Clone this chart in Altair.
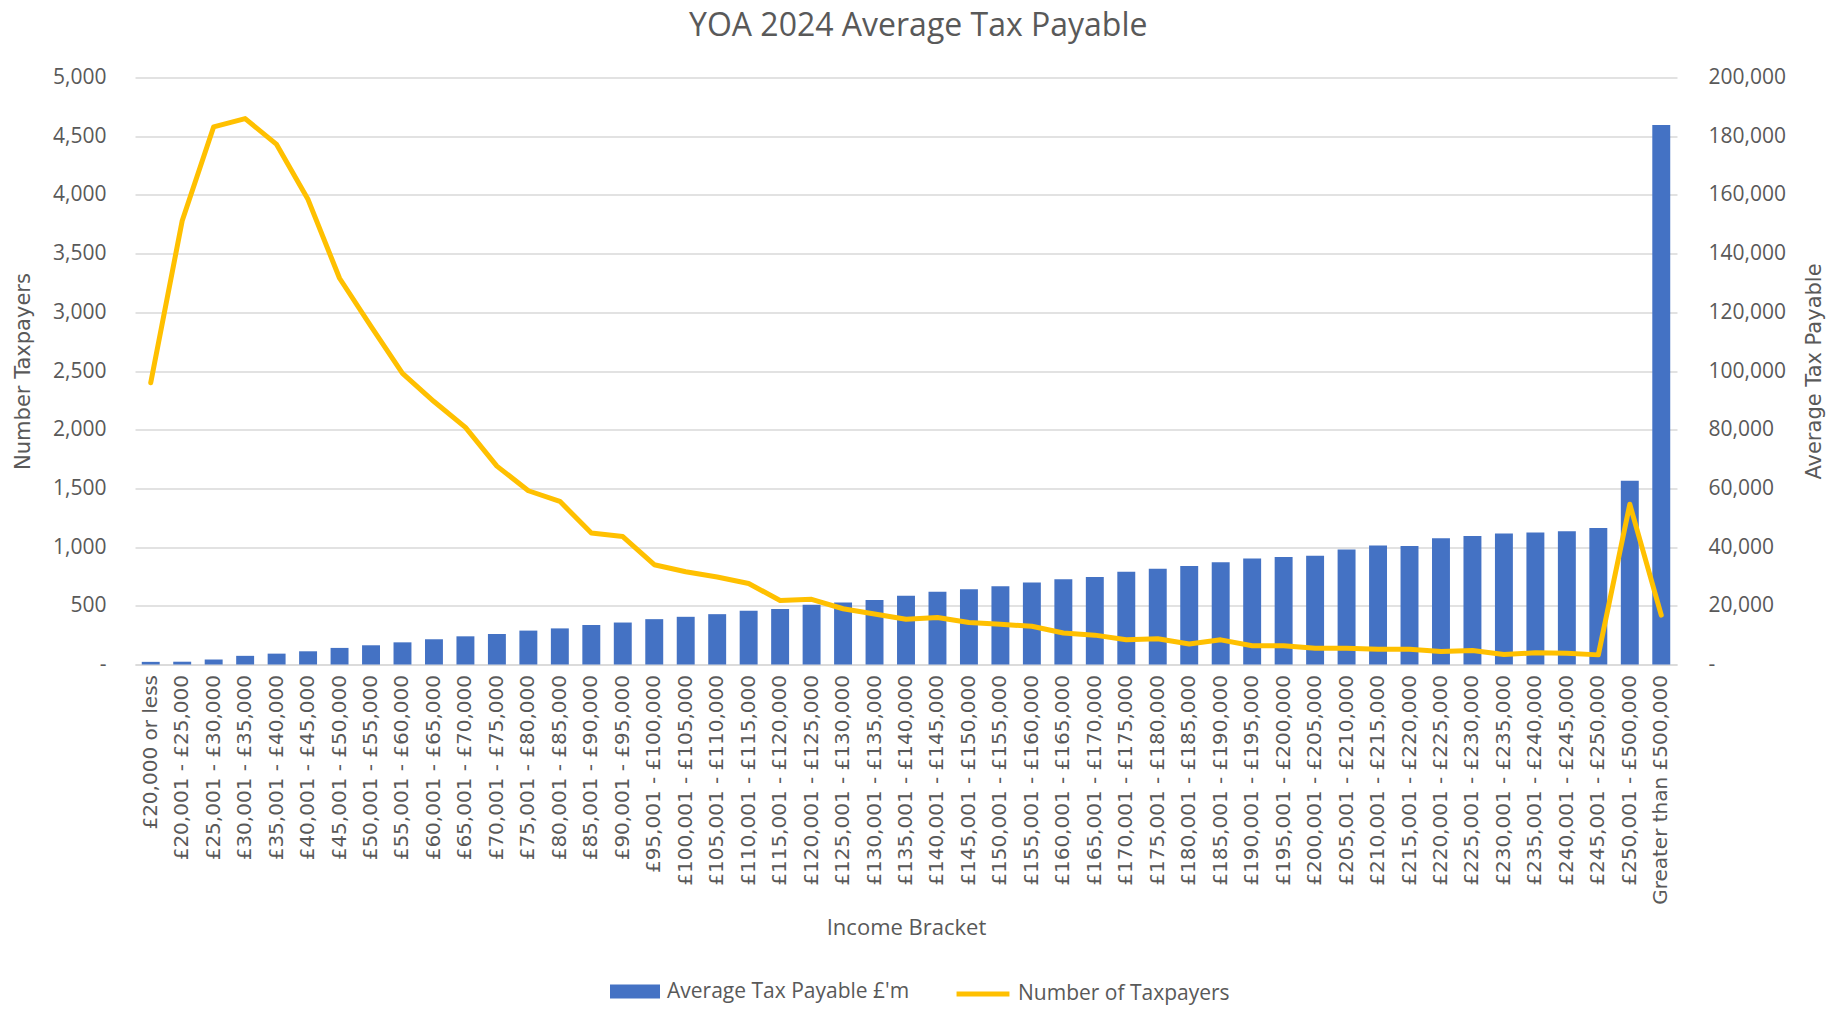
import altair as alt
import pandas as pd

brackets = [
    "£20,000 or less", "£20,001 - £25,000", "£25,001 - £30,000", "£30,001 - £35,000",
    "£35,001 - £40,000", "£40,001 - £45,000", "£45,001 - £50,000", "£50,001 - £55,000",
    "£55,001 - £60,000", "£60,001 - £65,000", "£65,001 - £70,000", "£70,001 - £75,000",
    "£75,001 - £80,000", "£80,001 - £85,000", "£85,001 - £90,000", "£90,001 - £95,000",
    "£95,001 - £100,000", "£100,001 - £105,000", "£105,001 - £110,000", "£110,001 - £115,000",
    "£115,001 - £120,000", "£120,001 - £125,000", "£125,001 - £130,000", "£130,001 - £135,000",
    "£135,001 - £140,000", "£140,001 - £145,000", "£145,001 - £150,000", "£150,001 - £155,000",
    "£155,001 - £160,000", "£160,001 - £165,000", "£165,001 - £170,000", "£170,001 - £175,000",
    "£175,001 - £180,000", "£180,001 - £185,000", "£185,001 - £190,000", "£190,001 - £195,000",
    "£195,001 - £200,000", "£200,001 - £205,000", "£205,001 - £210,000", "£210,001 - £215,000",
    "£215,001 - £220,000", "£220,001 - £225,000", "£225,001 - £230,000", "£230,001 - £235,000",
    "£235,001 - £240,000", "£240,001 - £245,000", "£245,001 - £250,000", "£250,001 - £500,000",
    "Greater than £500,000",
]

avg_tax = [
    900, 950, 1700, 2950, 3700, 4500, 5650, 6550, 7550, 8600,
    9600, 10400, 11550, 12300, 13450, 14300, 15450, 16250, 17150, 18300,
    18950, 20350, 21150, 21950, 23400, 24800, 25600, 26650, 27900, 29050,
    29800, 31600, 32650, 33550, 34800, 36150, 36600, 37050, 39200, 40550,
    40400, 43000, 43750, 44650, 44950, 45400, 46500, 62600, 183800,
]

num_taxpayers = [
    2400, 3780, 4580, 4650, 4430, 3960, 3290, 2880, 2480, 2240,
    2020, 1690, 1480, 1390, 1120, 1090, 850, 790, 745, 690,
    545, 555, 475, 430, 385, 400, 358, 342, 326, 268,
    250, 210, 220, 175, 210, 160, 160, 138, 138, 130,
    130, 110, 120, 85, 100, 95, 82, 1365, 420,
]

bar_name = ["Average Tax Payable £'m"]
line_name = ["Number of Taxpayers"]

df = pd.DataFrame({
    "bracket": brackets,
    "avg_tax": avg_tax,
    "taxpayers": num_taxpayers,
    "bar_series": bar_name * len(brackets),
    "line_series": line_name * len(brackets),
})

FONT = "Open Sans"
GREY = "#595959"
GRID = "#D9D9D9"
ZERO_DASH = "datum.value == 0 ? '-' : format(datum.value, ',')"

x_enc = alt.X(
    "bracket:N", sort=brackets, title="Income Bracket",
    scale=alt.Scale(paddingInner=0.43, paddingOuter=0.215),
    axis=alt.Axis(
        labelAngle=270, labelFont="DejaVu Sans", labelFontSize=20, labelColor=GREY,
        labelPadding=10, ticks=False, tickSize=0, domainColor=GRID, domainWidth=1.5,
        labelLimit=400, labelOverlap=False,
        titleFont=FONT, titleFontSize=22, titleColor=GREY, titleFontWeight="normal",
        titleY=263, titleBaseline="middle",
    ),
)

bars = alt.Chart(df).mark_bar().encode(
    x=x_enc,
    y=alt.Y(
        "avg_tax:Q",
        scale=alt.Scale(domain=[0, 200000], nice=False),
        axis=alt.Axis(
            orient="right", values=list(range(0, 200001, 20000)), labelExpr=ZERO_DASH,
            grid=False, domain=False, ticks=False, tickSize=0, labelPadding=31,
            labelFont=FONT, labelFontSize=21, labelColor=GREY,
            title="Average Tax Payable", titleFont="DejaVu Sans", titleFontSize=21,
            titleColor=GREY, titleFontWeight="normal", titleAngle=270,
            titleX=137, titleY=293.5, titleBaseline="middle", titleAlign="center",
        ),
    ),
    color=alt.Color(
        "bar_series:N",
        scale=alt.Scale(domain=bar_name, range=["#4472C4"]),
        legend=alt.Legend(
            title=None, orient="none", legendX=475, legendY=889,
            symbolType="M-1,-0.28H1V0.28H-1Z", symbolSize=2500, symbolStrokeWidth=0,
            labelFont=FONT, labelFontSize=21, labelColor=GREY, labelOffset=7,
            labelLimit=500, padding=0,
        ),
    ),
)

line = alt.Chart(df).mark_line(strokeWidth=5, strokeJoin="round", strokeCap="round").encode(
    x=x_enc,
    y=alt.Y(
        "taxpayers:Q",
        scale=alt.Scale(domain=[0, 5000], nice=False),
        axis=alt.Axis(
            orient="left", values=list(range(0, 5001, 500)), labelExpr=ZERO_DASH,
            grid=True, gridColor=GRID, gridWidth=1.4, domain=False, ticks=False, tickSize=0,
            labelPadding=29, labelFont=FONT, labelFontSize=21, labelColor=GREY,
            title="Number Taxpayers", titleFont="DejaVu Sans", titleFontSize=21,
            titleColor=GREY, titleFontWeight="normal", titleAngle=270,
            titleX=-111.5, titleY=293.5, titleBaseline="middle", titleAlign="center",
        ),
    ),
    color=alt.Color(
        "line_series:N",
        scale=alt.Scale(domain=line_name, range=["#FFC000"]),
        legend=alt.Legend(
            title=None, orient="none", legendX=819, legendY=887.5,
            symbolType="stroke", symbolSize=2800, symbolStrokeWidth=5,
            labelFont=FONT, labelFontSize=21, labelColor=GREY, labelOffset=6,
            labelLimit=500, padding=0,
        ),
    ),
)

chart = (
    alt.layer(bars, line)
    .resolve_scale(y="independent", color="independent")
    .properties(
        width=1542, height=587,
        padding={"left": 127, "top": 69.5, "right": 156, "bottom": 340.5},
        autosize=alt.AutoSizeParams(type="none"),
        background="white",
        title=alt.TitleParams(
            text="YOA 2024 Average Tax Payable", font=FONT, fontSize=32,
            fontWeight="normal", color=GREY, anchor="middle", offset=24,
            frame="bounds",
        ),
    )
    .configure_view(stroke=None)
)

chart.save("out.html", embed_options={"renderer": "svg", "actions": False})
